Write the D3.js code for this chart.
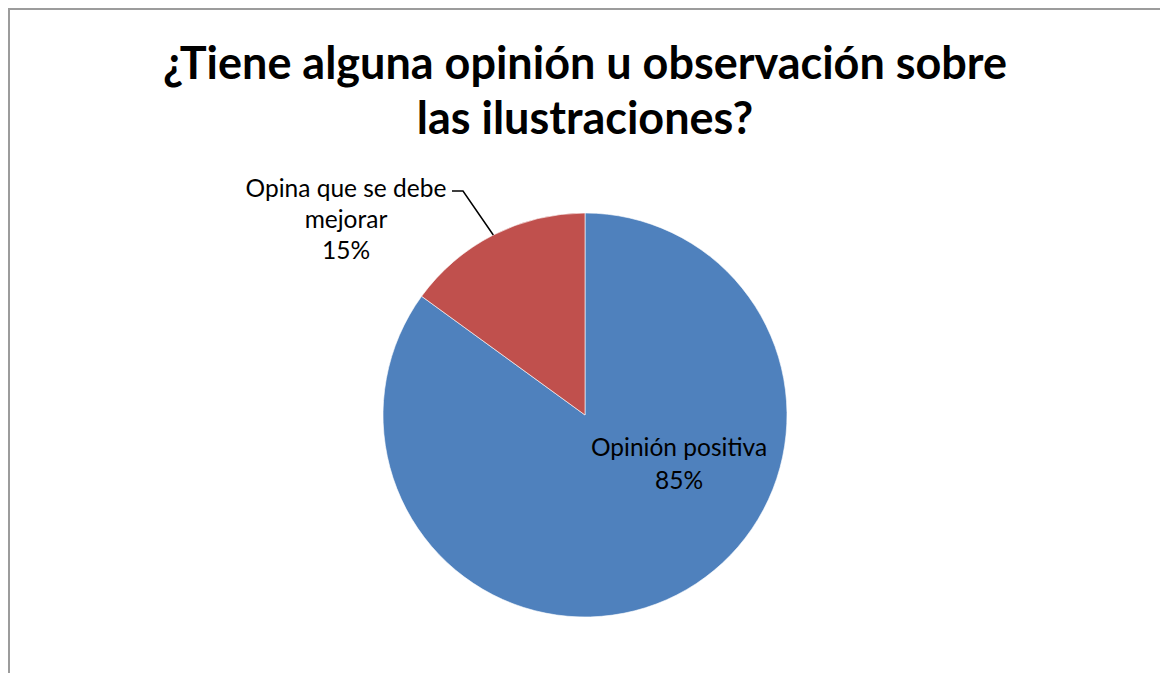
<!DOCTYPE html>
<html>
<head>
<meta charset="utf-8">
<script src="https://cdn.jsdelivr.net/npm/d3@7"></script>
<style>
  html, body { margin: 0; padding: 0; background: #fff; }
  svg { display: block; }
</style>
</head>
<body>
<svg id="chart" width="1160" height="673"></svg>
<script>
// Survey answers and their share of responses
const categories = ["Opinión positiva", "Opina que se debe mejorar"];
const values = [85, 15];
const colors = ["#4f81bd", "#c0504d"];
const titleLines = ["¿Tiene alguna opinión u observación sobre", "las ilustraciones?"];
// Label text broken into lines as shown next to each slice
const labelLines = [["Opinión positiva"], ["Opina que se debe", "mejorar"]];

const svg = d3.select("#chart");
const W = 1160, H = 673;
const cx = 585, cy = 415, R = 202;
const FONT = "Lato, 'Open Sans', sans-serif";

// Chart area frame (left and top edges visible)
svg.append("path")
  .attr("d", `M9,${H + 5} L9,9 L${W + 5},9`)
  .attr("fill", "none")
  .attr("stroke", "#9c9c9c")
  .attr("stroke-width", 2);

// Title, sized to the available width
const title = svg.append("g");
titleLines.forEach((t, i) => {
  title.append("text")
    .attr("x", cx)
    .attr("y", 79 + i * 55)
    .attr("text-anchor", "middle")
    .attr("font-family", FONT)
    .attr("font-weight", "bold")
    .attr("font-size", 40)
    .attr("fill", "#000")
    .text(t);
});
{
  const first = title.select("text").node();
  const w = first.getComputedTextLength();
  const fs = 40 * 844 / w;
  title.selectAll("text").attr("font-size", fs);
}

// Pie: first slice starts at 12 o'clock and runs clockwise
const pie = d3.pie().sort(null).value(d => d)(values);
const arc = d3.arc().innerRadius(0).outerRadius(R);

const g = svg.append("g").attr("transform", `translate(${cx},${cy})`);
g.selectAll("path.slice")
  .data(pie)
  .join("path")
  .attr("class", "slice")
  .attr("d", arc)
  .attr("fill", (d, i) => colors[i])
  .attr("stroke", "#ffffff")
  .attr("stroke-opacity", 0.6)
  .attr("stroke-width", 1);

const pct = d3.format(".0%");
const total = d3.sum(values);
const labelSize = 24.5;
const lineGap = 31;

// Inside label for the large slice
const inside = svg.append("text")
  .attr("text-anchor", "middle")
  .attr("font-family", FONT)
  .attr("font-size", labelSize)
  .attr("fill", "#000");
[...labelLines[0], pct(values[0] / total)].forEach((t, i) => {
  inside.append("tspan").attr("x", cx + 94).attr("y", cy + 41 + i * 33).text(t);
});

// Outside label for the small slice with a leader line
const outside = svg.append("text")
  .attr("text-anchor", "middle")
  .attr("font-family", FONT)
  .attr("font-size", labelSize)
  .attr("fill", "#000");
[...labelLines[1], pct(values[1] / total)].forEach((t, i) => {
  outside.append("tspan").attr("x", cx - 239).attr("y", cy - 218 + i * lineGap).text(t);
});

const mid = (pie[1].startAngle + pie[1].endAngle) / 2;
const edge = [cx + R * Math.sin(mid), cy - R * Math.cos(mid)];
svg.append("path")
  .attr("d", `M452,191 L463,191 L${edge[0]},${edge[1]}`)
  .attr("fill", "none")
  .attr("stroke", "#000")
  .attr("stroke-width", 1.5);
</script>
</body>
</html>
